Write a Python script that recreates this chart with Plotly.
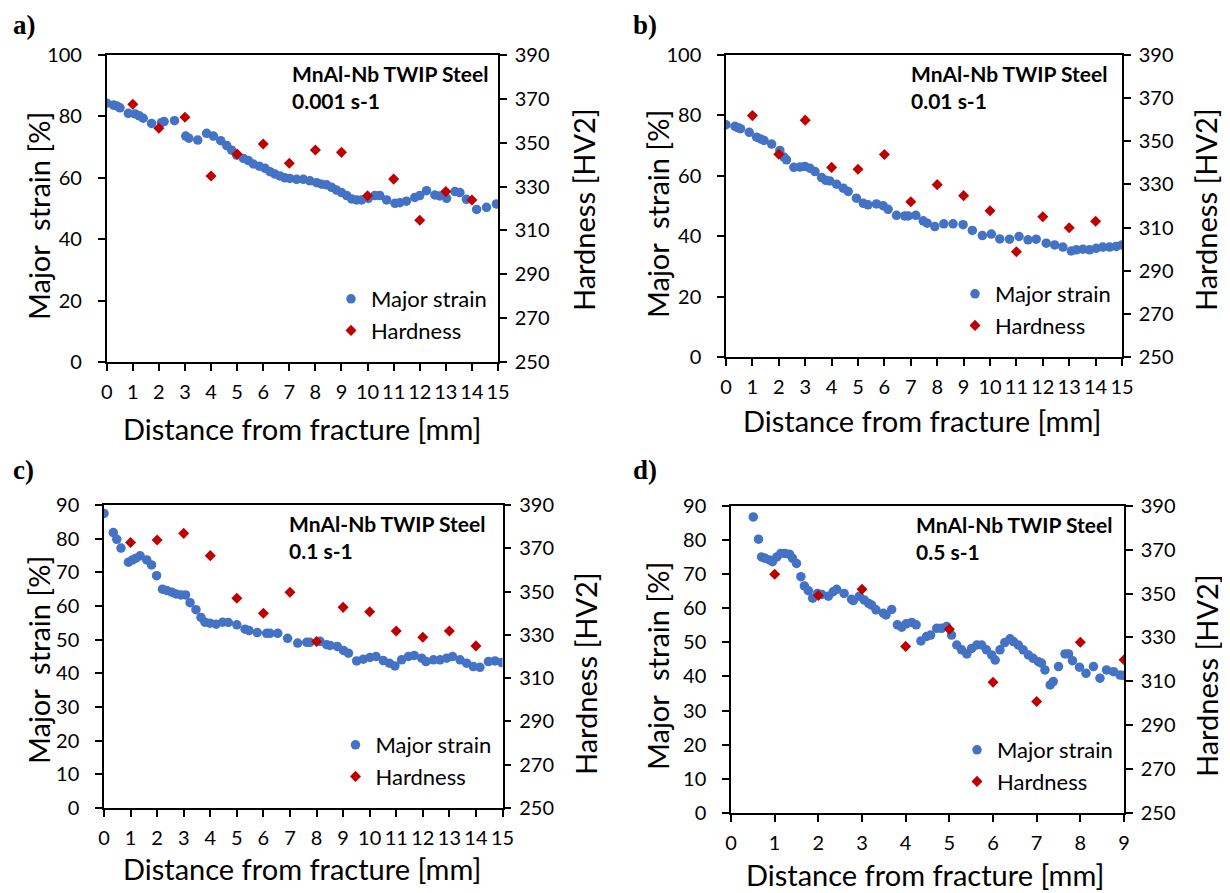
import plotly.graph_objects as go

W, H = 1230, 893
OFF = 8  # the page body margin
FW, FH = W - OFF, H - OFF

# a) 0.001 s-1
a_strain_x = [0, 0.26, 0.38, 0.51, 0.83, 1.09, 1.25, 1.4, 1.72, 2.1, 2.2, 2.6, 3.03, 3.15, 3.49, 3.83,
              4.09, 4.37, 4.6, 4.79, 4.98, 5.24, 5.43, 5.62, 5.85, 6.07, 6.26, 6.45, 6.64, 6.83, 7.02,
              7.28, 7.54, 7.79, 8.05, 8.24, 8.43, 8.62, 8.81, 9.0, 9.2, 9.39, 9.58, 9.77, 10.03, 10.28,
              10.47, 10.73, 11.05, 11.24, 11.49, 11.81, 12.0, 12.26, 12.58, 12.77, 13.03, 13.35, 13.54,
              13.79, 14.18, 14.56, 14.94]
a_strain_y = [84.3, 83.7, 83.4, 82.8, 81, 80.8, 80.2, 79.4, 77.7, 78, 78.3, 78.6, 73.6, 72.9, 72.3, 74.5,
              73.6, 72.1, 70.5, 69, 67.4, 66.3, 65.6, 64.5, 63.8, 63.1, 62, 61.2, 60.6, 60, 59.8,
              59.5, 59.5, 59, 58.4, 57.9, 57.7, 56.9, 56, 55.2, 54.2, 53.1, 52.8, 52.8, 53.3, 54.2,
              54.2, 52.8, 51.7, 51.9, 52.4, 53.6, 54.2, 55.8, 54.4, 54.1, 53.3, 55.5, 55.2,
              53, 49.7, 50.4, 51.5]
a_hard_x = [1, 2, 3, 4, 5, 6, 7, 8, 9, 10, 11, 12, 13, 14]
a_hard_y = [367.5, 356.6, 361.6, 334.8, 344.8, 349.4, 340.6, 346.7, 345.6, 325.8, 333.4, 314.6, 327.7, 323.9]

# b) 0.01 s-1
b_strain_x = [0, 0.34, 0.47, 0.55, 0.88, 1.16, 1.31, 1.44, 1.73, 2.04, 2.19, 2.29, 2.57, 2.8, 2.99, 3.18,
              3.37, 3.62, 3.78, 3.93, 4.19, 4.44, 4.63, 4.94, 5.2, 5.38, 5.7, 5.95, 6.14, 6.46, 6.77,
              6.9, 7.19, 7.47, 7.62, 7.91, 8.25, 8.6, 8.98, 9.33, 9.71, 10.05, 10.37, 10.74, 11.1,
              11.44, 11.75, 12.13, 12.45, 12.76, 13.08, 13.27, 13.52, 13.77, 14.02, 14.27, 14.53,
              14.78, 15.0]
b_strain_y = [76.9, 76.4, 75.9, 75.6, 74.4, 72.8, 72.2, 71.7, 70.5, 68.4, 66.2, 65.3, 62.8, 62.9, 63.1, 62.5,
              61.4, 59.4, 58.5, 58.3, 57.2, 55.9, 54.8, 52.6, 50.9, 50.4, 50.7, 50.1, 48.9, 46.9, 46.7,
              46.7, 46.9, 45.1, 44.3, 43.2, 44.1, 44.1, 43.8, 41.9, 40.2, 40.7, 39.1, 39, 39.9,
              38.8, 39, 37.7, 37.1, 36.4, 35.1, 35.5, 35.7, 35.5, 36, 36.4, 36.4,
              36.6, 37.1]
b_hard_x = [1, 2, 3, 4, 5, 6, 7, 8, 9, 10, 11, 12, 13, 14]
b_hard_y = [361.9, 344, 359.8, 337.9, 337, 343.9, 322, 329.9, 324.8, 317.8, 298.8, 315, 309.9, 312.9]

# c) 0.1 s-1
c_strain_x = [0, 0.35, 0.48, 0.64, 0.92, 1.07, 1.2, 1.36, 1.61, 1.79, 1.98, 2.2, 2.36, 2.55, 2.71, 2.9,
              3.07, 3.24, 3.46, 3.65, 3.8, 3.99, 4.22, 4.47, 4.68, 5.0, 5.31, 5.46, 5.77, 6.12, 6.25,
              6.54, 6.91, 7.29, 7.63, 7.75, 8.13, 8.38, 8.51, 8.78, 9.01, 9.2, 9.51, 9.76, 10.01,
              10.24, 10.51, 10.74, 10.95, 11.2, 11.46, 11.68, 11.96, 12.12, 12.4, 12.65, 12.9, 13.12,
              13.4, 13.65, 13.9, 14.15, 14.47, 14.72, 14.97]
c_strain_y = [87.5, 81.8, 79.8, 77.2, 73, 73.7, 74.2, 74.9, 73.7, 72.2, 69, 65, 64.6, 64.1, 63.6, 63.3,
              63.3, 61, 58.9, 56.6, 55.2, 54.9, 54.6, 55.2, 55.1, 54.4, 53.1, 52.7, 52.1, 51.9, 51.9,
              51.9, 50.4, 49, 49.2, 49.2, 49.5, 48.5, 48.3, 48, 46.8, 46, 43.7, 44.2, 44.7,
              45, 43.8, 43, 42.2, 44, 45, 45.3, 44.5, 43.5, 44, 44, 44.5, 45,
              44, 43, 42, 41.8, 43.5, 43.7, 43.2]
c_hard_x = [1, 2, 3, 4, 5, 6, 7, 8, 9, 10, 11, 12, 13, 14]
c_hard_y = [372.7, 373.8, 376.9, 366.6, 346.9, 340, 349.7, 326.9, 342.7, 340.7, 331.8, 328.9, 331.8, 324.9]

# d) 0.5 s-1
d_strain_x = [0.51, 0.63, 0.7, 0.78, 0.88, 0.95, 1.05, 1.14, 1.24, 1.34, 1.41, 1.5, 1.6, 1.68, 1.77, 1.87,
              1.98, 2.08, 2.23, 2.34, 2.42, 2.59, 2.76, 2.8, 2.94, 3.05, 3.15, 3.22, 3.32, 3.49, 3.55,
              3.68, 3.81, 3.91, 4.01, 4.14, 4.24, 4.35, 4.48, 4.57, 4.71, 4.82, 4.94, 5.05, 5.17,
              5.28, 5.4, 5.51, 5.63, 5.74, 5.85, 5.97, 6.05, 6.16, 6.27, 6.39, 6.47, 6.58, 6.69,
              6.81, 6.92, 7.04, 7.11, 7.19, 7.31, 7.38, 7.5, 7.65, 7.73, 7.82, 7.98, 8.13, 8.3,
              8.45, 8.6, 8.76, 8.91, 8.98]
d_strain_y = [86.7, 80.2, 75, 74.6, 74.1, 73.6, 75, 76, 76, 75.8, 74.6, 73.1, 69.2, 66.5, 65.1, 62.9,
              64.3, 64, 63.5, 64.8, 65.5, 64.3, 62.6, 62.2, 63.5, 62.4, 61.4, 60.9, 59.5, 58.5, 58,
              59.6, 55.1, 54.4, 55.4, 55.8, 55.1, 50.4, 51.7, 52.1, 54.1, 54.1, 54.6, 52.1, 49.2,
              47.8, 46.6, 48.2, 49.2, 49.2, 47.8, 46.3, 44.8, 47.8, 49.9, 51, 50.2, 49.2, 47.8,
              46.3, 45.3, 44.3, 43.9, 41.9, 37.5, 38.5, 42.9, 46.6, 46.6, 44.6, 42.7, 40.9, 42.9,
              39.5, 41.9, 41.4, 40.4, 40.3]
d_hard_x = [1, 2, 3, 4, 5, 6, 7, 8, 9]
d_hard_y = [358.8, 349.1, 351.9, 325.9, 333.7, 309.6, 300.8, 327.8, 319.8]

panel_labels = ["a)", "b)", "c)", "d)"]
rates = ["0.001 s-1", "0.01 s-1", "0.1 s-1", "0.5 s-1"]

BLUE = "#4472C4"
RED = "#C00000"
FONT = "Lato"


def px(x):
    return (x - OFF) / FW


def py(y):
    return 1 - (y - OFF) / FH


# pixel boxes of each plot area: left, right, top, bottom
boxes = [(106.7, 498, 55, 362), (726, 1122, 55, 357),
         (104, 502.5, 505, 808), (731, 1124, 505.7, 813)]
# pixel centres of the axis titles: left title (x, y), right title (x, y), bottom title (x, y)
title_pos = [((38, 216), (583, 210), (302, 428)),
             ((657, 214), (1205, 210), (922, 420)),
             ((38, 660), (585, 674), (302, 868)),
             ((657, 666), (1206, 676), (925, 874))]
label_pos = [(11, 8), (631, 8), (11, 453), (631, 453)]
xmax = [15, 15, 15, 9]
ymax = [100, 100, 90, 90]
ydt = [20, 20, 10, 10]
data = [(a_strain_x, a_strain_y, a_hard_x, a_hard_y),
        (b_strain_x, b_strain_y, b_hard_x, b_hard_y),
        (c_strain_x, c_strain_y, c_hard_x, c_hard_y),
        (d_strain_x, d_strain_y, d_hard_x, d_hard_y)]

fig = go.Figure()
layout = {}
annotations = []
title_font = dict(family=FONT, size=29, color="black")

for i in range(4):
    l, r, t, b = boxes[i]
    sx, sy, hx, hy = data[i]
    xa = "x" if i == 0 else "x%d" % (i + 1)
    yl = "y" if i == 0 else "y%d" % (2 * i + 1)
    yr = "y%d" % (2 * i + 2)
    leg = "legend" if i == 0 else "legend%d" % (i + 1)

    fig.add_trace(go.Scatter(x=sx, y=sy, mode="markers", name="Major strain",
                             marker=dict(color=BLUE, size=9.5, symbol="circle"),
                             xaxis=xa, yaxis=yl, legend=leg))
    fig.add_trace(go.Scatter(x=hx, y=hy, mode="markers", name="Hardness",
                             marker=dict(color=RED, size=8.5, symbol="diamond"),
                             xaxis=xa, yaxis=yr, legend=leg))

    axline = dict(showline=True, linecolor="black", linewidth=1.5, ticks="outside",
                  ticklen=7, tickcolor="black", tickwidth=1.5, showgrid=False, zeroline=False,
                  tickfont=dict(family=FONT, size=20, color="black"))
    layout["xaxis" if i == 0 else "xaxis%d" % (i + 1)] = dict(
        domain=[px(l), px(r)], anchor=yl, range=[0, xmax[i]], dtick=1, mirror=True,
        ticklabelstandoff=4, **axline)
    layout["yaxis" if i == 0 else "yaxis%d" % (2 * i + 1)] = dict(
        domain=[py(b), py(t)], anchor=xa, range=[0, ymax[i]], dtick=ydt[i],
        ticklabelstandoff=12, **axline)
    layout["yaxis%d" % (2 * i + 2)] = dict(
        overlaying=yl, side="right", anchor=xa, range=[250, 390], tick0=250, dtick=20,
        ticklabelstandoff=4, **axline)
    layout[leg] = dict(x=px(r - 6), y=py(b - 10), xanchor="right", yanchor="bottom",
                       bgcolor="rgba(0,0,0,0)", tracegroupgap=0, itemwidth=30,
                       font=dict(family=FONT, size=22, color="black"))

    # axis titles
    (lx, ly), (rx, ry), (bx, by) = title_pos[i]
    centred = dict(xref="paper", yref="paper", xanchor="center", yanchor="middle",
                   showarrow=False, font=title_font)
    annotations.append(dict(x=px(lx), y=py(ly), textangle=-90,
                            text="Major\u00a0 strain [%]", **centred))
    annotations.append(dict(x=px(rx), y=py(ry), textangle=-90,
                            text="Hardness [HV2]", **centred))
    annotations.append(dict(x=px(bx), y=py(by),
                            text="Distance from fracture [mm]", **centred))

    annotations.append(dict(x=px(l + 183), y=py(t + 4), xref="paper", yref="paper",
                            xanchor="left", yanchor="top", align="left", showarrow=False,
                            text="<b>MnAl-Nb TWIP Steel<br>%s</b>" % rates[i],
                            font=dict(family=FONT, size=21, color="black")))
    annotations.append(dict(x=px(label_pos[i][0]), y=py(label_pos[i][1]),
                            xref="paper", yref="paper", xanchor="left", yanchor="top",
                            showarrow=False, text="<b>%s</b>" % panel_labels[i],
                            font=dict(family="Liberation Serif", size=27, color="black")))

fig.update_layout(**layout)
fig.update_layout(width=FW, height=FH, margin=dict(l=0, r=0, t=0, b=0, autoexpand=False),
                  plot_bgcolor="white", paper_bgcolor="white",
                  annotations=annotations, showlegend=True)

fig.write_html("out.html")
